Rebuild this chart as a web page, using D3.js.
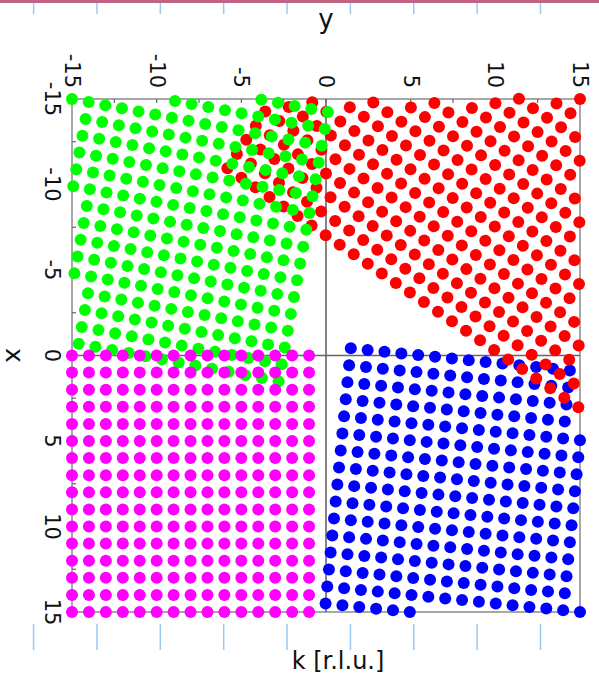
<!DOCTYPE html>
<html>
<head>
<meta charset="utf-8">
<script src="https://cdn.jsdelivr.net/npm/d3@7"></script>
<style>
  html, body { margin: 0; padding: 0; background: #fff; }
  svg { display: block; }
</style>
</head>
<body>
<svg id="chart" width="599" height="676"></svg>
<script>
// Axis ticks (both axes share the same range, in r.l.u.)
const axisTicks = [-15, -10, -5, 0, 5, 10, 15];
const minorTicks = [-15, -12.5, -10, -7.5, -5, -2.5, 0, 2.5, 5, 7.5, 10, 12.5, 15];

// Four rotated square-lattice domains of reciprocal-lattice peaks.
// Each domain: pivot point (y, x), rotation angle, and the index ranges
// along the two rotated lattice vectors.
const domainNames  = ["domain A", "domain B", "domain C", "domain D"];
const domainColors = ["#0000ff", "#ff0000", "#00ff00", "#ff00ff"];
const domainAngles = [5.7, 34, 10.5, 0];        // degrees
const pivotY       = [15, 15, -15, -15];
const pivotX       = [15, -15, -15, 15];
const rangeA       = [[-15, 0], [-15, 15], [0, 15], [0, 14]];
const rangeB       = [[-14, 1], [0, 15], [-15, 14], [-15, 0]];

const W = 599, H = 676;
const svg = d3.select("#chart");
svg.append("rect").attr("width", W).attr("height", H).attr("fill", "#fff");

// Page decorations: rose strip and ruler marks
svg.append("rect").attr("x", 0).attr("y", 0).attr("width", W).attr("height", 3).attr("fill", "#be6482");
const rulerStep = 63.36, rulerStart = 33.6;
const rulerMarks = d3.range(9).map(k => rulerStart + k * rulerStep);
svg.selectAll("line.rtop").data(rulerMarks).join("line")
  .attr("x1", d => d).attr("x2", d => d).attr("y1", 3).attr("y2", 14)
  .attr("stroke", "#9cc8f4").attr("stroke-width", 1.5);
svg.selectAll("line.rbot").data(rulerMarks).join("line")
  .attr("x1", d => d).attr("x2", d => d).attr("y1", 624).attr("y2", 650)
  .attr("stroke", "#9cc8f4").attr("stroke-width", 1.5);

// Scales: horizontal = y, vertical = x (x increases downward)
const sy = d3.scaleLinear().domain([-15, 15]).range([72, 580]);
const sx = d3.scaleLinear().domain([-15, 15]).range([99, 612]);

const font = "DejaVu Sans, Verdana, sans-serif";

// Frame
svg.append("rect")
  .attr("x", sy(-15)).attr("y", sx(-15))
  .attr("width", sy(15) - sy(-15)).attr("height", sx(15) - sx(-15))
  .attr("fill", "none").attr("stroke", "#8a8a8a").attr("stroke-width", 1.5);

// Zero lines
svg.append("line").attr("x1", sy(0)).attr("x2", sy(0)).attr("y1", sx(-15)).attr("y2", sx(15))
  .attr("stroke", "#666").attr("stroke-width", 1.6);
svg.append("line").attr("x1", sy(-15)).attr("x2", sy(15)).attr("y1", sx(0)).attr("y2", sx(0))
  .attr("stroke", "#666").attr("stroke-width", 1.6);

// Inward tick marks on the top and left edges
svg.selectAll("line.tt").data(minorTicks).join("line")
  .attr("x1", d => sy(d)).attr("x2", d => sy(d)).attr("y1", sx(-15)).attr("y2", sx(-15) + 4)
  .attr("stroke", "#666").attr("stroke-width", 1.2);
svg.selectAll("line.tl").data(minorTicks).join("line")
  .attr("x1", sy(-15)).attr("x2", sy(-15) + 4).attr("y1", d => sx(d)).attr("y2", d => sx(d))
  .attr("stroke", "#666").attr("stroke-width", 1.2);

// Lattice points of each domain, kept inside the plotted window
const eps = 0.03;
const points = [];
domainNames.forEach((name, k) => {
  const t = domainAngles[k] * Math.PI / 180;
  const c = Math.cos(t), s = Math.sin(t);
  for (let a = rangeA[k][0]; a <= rangeA[k][1]; a++) {
    for (let b = rangeB[k][0]; b <= rangeB[k][1]; b++) {
      const y = pivotY[k] + a * c - b * s;
      const x = pivotX[k] + a * s + b * c;
      if (Math.abs(y) <= 15 + eps && Math.abs(x) <= 15 + eps) {
        points.push({ name, k, y, x });
      }
    }
  }
});

svg.append("g").selectAll("circle").data(points).join("circle")
  .attr("cx", d => sy(d.y)).attr("cy", d => sx(d.x)).attr("r", 6)
  .attr("fill", d => domainColors[d.k]);

// Tick labels, rotated to read top-to-bottom
svg.selectAll("text.ty").data(axisTicks).join("text")
  .attr("transform", d => `translate(${sy(d)},88) rotate(90)`)
  .attr("text-anchor", "end").attr("dominant-baseline", "central")
  .attr("font-family", font).attr("font-size", 21).attr("fill", "#111")
  .text(d => d);
svg.selectAll("text.tx").data(axisTicks).join("text")
  .attr("transform", d => `translate(52,${sx(d)}) rotate(90)`)
  .attr("text-anchor", "middle").attr("dominant-baseline", "central")
  .attr("font-family", font).attr("font-size", 21).attr("fill", "#111")
  .text(d => d);

// Axis titles
svg.append("text").attr("x", sy(0)).attr("y", 28)
  .attr("text-anchor", "middle").attr("font-family", font).attr("font-size", 26).attr("fill", "#111")
  .text("y");
svg.append("text").attr("transform", `translate(6,${sx(0)}) rotate(90)`)
  .attr("text-anchor", "middle")
  .attr("font-family", font).attr("font-size", 25).attr("fill", "#111")
  .text("x");
svg.append("text").attr("x", 338).attr("y", 669)
  .attr("text-anchor", "middle").attr("font-family", font).attr("font-size", 24).attr("fill", "#111")
  .text("k [r.l.u.]");
</script>
</body>
</html>
